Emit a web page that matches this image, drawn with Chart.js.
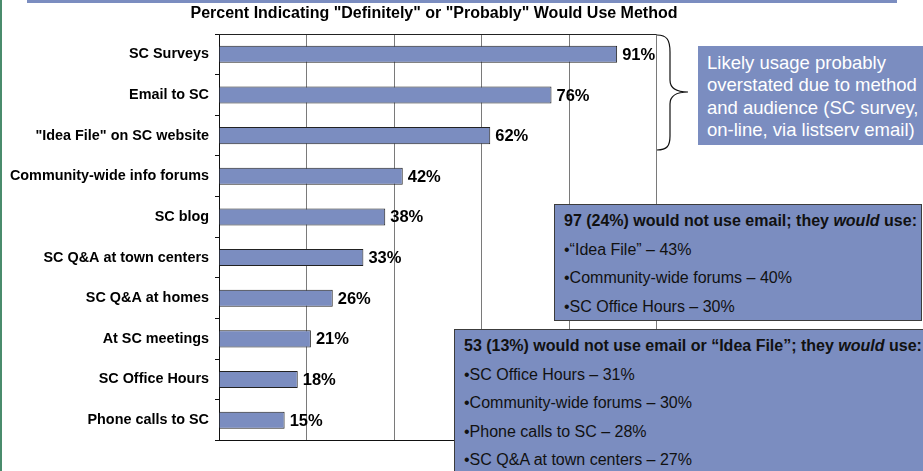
<!DOCTYPE html>
<html>
<head>
<meta charset="utf-8">
<script src="https://cdn.jsdelivr.net/npm/chart.js@4/dist/chart.umd.min.js"></script>
<style>
  html, body { margin: 0; padding: 0; background: #fff; }
  #wrap { position: relative; width: 923px; height: 471px; overflow: hidden; font-family: "Liberation Sans", Arial, sans-serif; }
  #wrap canvas { position: absolute; left: 0; top: 0; }
  .edge { position: absolute; left: 0; top: 0; width: 2px; height: 471px; background: #4a8c6c; }
  .band { position: absolute; left: 27px; top: 0; width: 870px; height: 3px; background: #7b8dc0; }
  .callout { position: absolute; left: 698px; top: 46px; width: 225px; height: 99px; background: #7b8dc0; color: #fff;
             font-size: 18.5px; line-height: 22.3px; padding: 6px 0 0 9px; box-sizing: border-box; white-space: nowrap; }
  .note { position: absolute; background: #7b8dc0; border: 1px solid #3c3c3c; box-sizing: border-box; color: #111;
          font-size: 16px; line-height: 28.5px; padding: 2px 0 0 9px; white-space: nowrap; }
  .note b { font-weight: bold; }
  #note1 { left: 554px; top: 204px; width: 368px; height: 117px; }
  #note2 { left: 454px; top: 329px; width: 480px; height: 160px; }
  svg { position: absolute; left: 0; top: 0; }
</style>
</head>
<body>
<div id="wrap">
  <canvas id="usageChart" width="923" height="471"></canvas>
  <div class="edge"></div>
  <div class="band"></div>
  <svg width="923" height="471">
    <path d="M657 35 C667 35 670 40 670 52 L670 80 C670 88 675 92 688 92 C675 92 670 96 670 104 L670 136 C670 146 667 150 657 150"
          fill="none" stroke="#111" stroke-width="1.2"/>
  </svg>
  <div class="callout" id="callout"></div>
  <div class="note" id="note1"></div>
  <div class="note" id="note2"></div>
</div>
<script>
const methods = [
  'SC Surveys',
  'Email to SC',
  '"Idea File" on SC website',
  'Community-wide info forums',
  'SC blog',
  'SC Q&A at town centers',
  'SC Q&A at homes',
  'At SC meetings',
  'SC Office Hours',
  'Phone calls to SC'
];
const pctWouldUse = [91, 76, 62, 42, 38, 33, 26, 21, 18, 15];
const axisMax = 100;
const axisStep = 20;

const chartTitle = 'Percent Indicating "Definitely" or "Probably" Would Use Method';

const calloutLines = [
  'Likely usage probably',
  'overstated due to method',
  'and audience (SC survey,',
  'on-line, via listserv email)'
];
const noEmailHead = '97 (24%) would not use email; they <i>would</i> use:';
const noEmailUse = ['“Idea File” – 43%', 'Community-wide forums – 40%', 'SC Office Hours – 30%'];
const noEmailIdeaHead = '53 (13%) would not use email or “Idea File”; they <i>would</i> use:';
const noEmailIdeaUse = ['SC Office Hours – 31%', 'Community-wide forums – 30%', 'Phone calls to SC – 28%', 'SC Q&amp;A at town centers – 27%'];

const FONT = '"Liberation Sans", Arial, sans-serif';

document.getElementById('callout').innerHTML = calloutLines.join('<br>');
document.getElementById('note1').innerHTML =
  '<b>' + noEmailHead + '</b><br>' + noEmailUse.map(t => '•' + t).join('<br>');
document.getElementById('note2').innerHTML =
  '<b>' + noEmailIdeaHead + '</b><br>' + noEmailIdeaUse.map(t => '•' + t).join('<br>');

// title, frame top and the "NN%" labels next to each bar
const decorations = {
  id: 'decorations',
  afterDatasetsDraw(chart) {
    const { ctx, chartArea } = chart;
    ctx.save();
    ctx.strokeStyle = '#222';
    ctx.lineWidth = 1;
    ctx.beginPath();
    ctx.moveTo(chartArea.left, chartArea.top + 0.5);
    ctx.lineTo(chartArea.right, chartArea.top + 0.5);
    ctx.stroke();

    ctx.fillStyle = '#000';
    ctx.font = 'bold 16px ' + FONT;
    ctx.textAlign = 'center';
    ctx.textBaseline = 'middle';
    ctx.fillText(chartTitle, 434, 14);

    ctx.font = 'bold 16.5px ' + FONT;
    ctx.textAlign = 'left';
    chart.getDatasetMeta(0).data.forEach((bar, i) => {
      ctx.fillText(pctWouldUse[i] + '%', bar.x + 5, bar.y + 1);
    });
    ctx.restore();
  }
};

new Chart(document.getElementById('usageChart').getContext('2d'), {
  type: 'bar',
  data: {
    labels: methods,
    datasets: [{
      data: pctWouldUse,
      backgroundColor: '#7b8dc0',
      borderColor: '#222',
      borderWidth: 1,
      borderSkipped: 'left',
      categoryPercentage: 1,
      barPercentage: 0.42
    }]
  },
  options: {
    indexAxis: 'y',
    responsive: false,
    animation: false,
    layout: { padding: { left: 0, top: 34, right: 266.5, bottom: 30.5 } },
    plugins: { legend: { display: false }, tooltip: { enabled: false } },
    scales: {
      x: {
        min: 0,
        max: axisMax,
        ticks: { display: false, stepSize: axisStep },
        grid: { color: '#7a7a7a', drawTicks: false },
        border: { color: '#111', width: 1 },
        afterFit: s => { s.height = 0; }
      },
      y: {
        grid: { drawOnChartArea: false, drawTicks: true, tickLength: 4, color: '#111' },
        border: { color: '#111', width: 1 },
        ticks: {
          color: '#000',
          padding: 6,
          font: { family: FONT, size: 14.4, weight: 'bold' }
        },
        afterFit: s => { s.width = 219; }
      }
    }
  },
  plugins: [decorations]
});
</script>
</body>
</html>
